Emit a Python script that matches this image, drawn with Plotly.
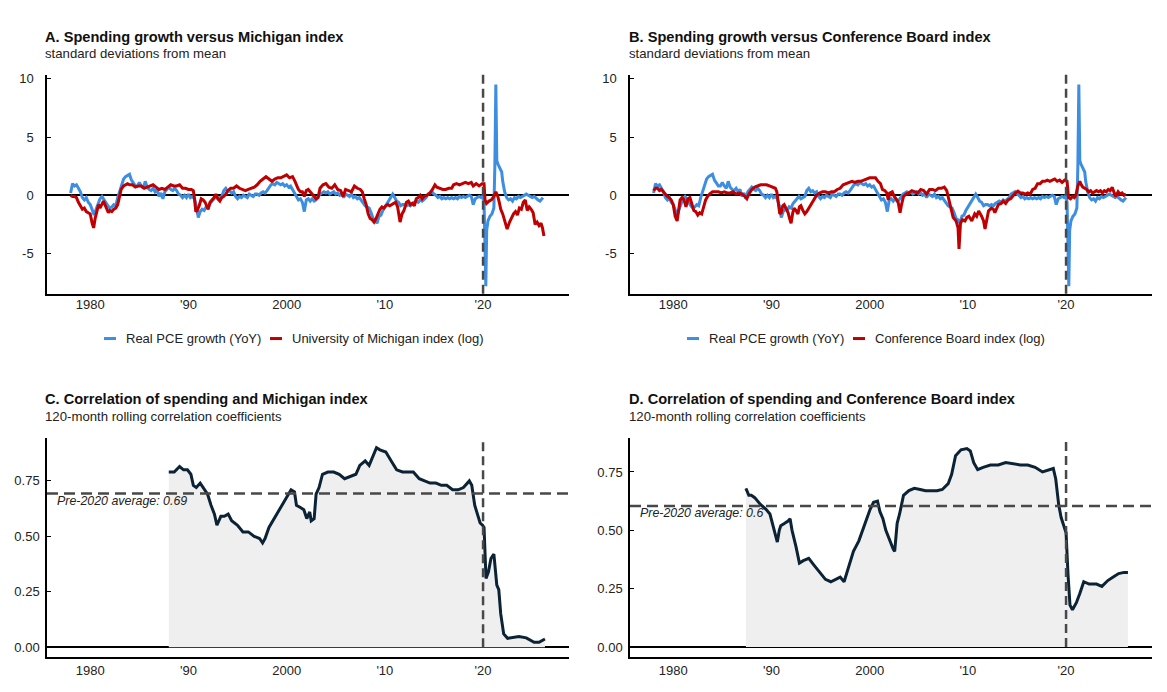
import plotly.graph_objects as go

# ---------------- data ----------------
years_ticks = [1980, 1990, 2000, 2010, 2020]
year_labels = ["1980", "'90", "2000", "'10", "'20"]
top_ticks = [-5, 0, 5, 10]
top_tick_labels = ["-5", "0", "5", "10"]
corr_ticks = [0, 0.25, 0.5, 0.75]
corr_tick_labels = ["0.00", "0.25", "0.50", "0.75"]

covid_break = 2020.0
avg_mi = 0.693
avg_cb = 0.604

pce_t = [1978.0, 1978.2, 1978.4, 1978.6, 1978.8, 1979.0, 1979.2, 1979.4, 1979.6, 1979.8,
         1980.0, 1980.2, 1980.4, 1980.6, 1980.8, 1981.0, 1981.2, 1981.4, 1981.6, 1981.8,
         1982.0, 1982.2, 1982.4, 1982.6, 1982.8, 1983.0, 1983.2, 1983.4, 1983.6, 1983.8,
         1984.0, 1984.2, 1984.4, 1984.6, 1984.8, 1985.0, 1985.2, 1985.4, 1985.6, 1985.8,
         1986.0, 1986.2, 1986.4, 1986.6, 1986.8, 1987.0, 1987.2, 1987.4, 1987.6, 1987.8,
         1988.0, 1988.2, 1988.4, 1988.6, 1988.8, 1989.0, 1989.2, 1989.4, 1989.6, 1989.8,
         1990.0, 1990.2, 1990.4, 1990.6, 1990.8, 1991.0, 1991.2, 1991.4, 1991.6, 1991.8,
         1992.0, 1992.2, 1992.4, 1992.6, 1992.8, 1993.0, 1993.2, 1993.4, 1993.6, 1993.8,
         1994.0, 1994.2, 1994.4, 1994.6, 1994.8, 1995.0, 1995.2, 1995.4, 1995.6, 1995.8,
         1996.0, 1996.2, 1996.4, 1996.6, 1996.8, 1997.0, 1997.2, 1997.4, 1997.6, 1997.8,
         1998.0, 1998.2, 1998.4, 1998.6, 1998.8, 1999.0, 1999.2, 1999.4, 1999.6, 1999.8,
         2000.0, 2000.2, 2000.4, 2000.6, 2000.8, 2001.0, 2001.2, 2001.4, 2001.6, 2001.8,
         2002.0, 2002.2, 2002.4, 2002.6, 2002.8, 2003.0, 2003.2, 2003.4, 2003.6, 2003.8,
         2004.0, 2004.2, 2004.4, 2004.6, 2004.8, 2005.0, 2005.2, 2005.4, 2005.6, 2005.8,
         2006.0, 2006.2, 2006.4, 2006.6, 2006.8, 2007.0, 2007.2, 2007.4, 2007.6, 2007.8,
         2008.0, 2008.2, 2008.4, 2008.6, 2008.8, 2009.0, 2009.2, 2009.4, 2009.6, 2009.8,
         2010.0, 2010.2, 2010.4, 2010.6, 2010.8, 2011.0, 2011.2, 2011.4, 2011.6, 2011.8,
         2012.0, 2012.2, 2012.4, 2012.6, 2012.8, 2013.0, 2013.2, 2013.4, 2013.6, 2013.8,
         2014.0, 2014.2, 2014.4, 2014.6, 2014.8, 2015.0, 2015.2, 2015.4, 2015.6, 2015.8,
         2016.0, 2016.2, 2016.4, 2016.6, 2016.8, 2017.0, 2017.2, 2017.4, 2017.6, 2017.8,
         2018.0, 2018.2, 2018.4, 2018.6, 2018.8, 2019.0, 2019.2, 2019.4, 2019.6, 2019.8,
         2020.0, 2020.1, 2020.2, 2020.28, 2020.37, 2020.5, 2020.7, 2020.9, 2021.1, 2021.2,
         2021.3, 2021.4, 2021.5, 2021.7, 2021.9, 2022.0, 2022.2, 2022.4, 2022.6, 2022.8,
         2023.0, 2023.2, 2023.4, 2023.6, 2023.8, 2024.0, 2024.2, 2024.4, 2024.6, 2024.8,
         2025.0, 2025.2, 2025.4, 2025.6, 2025.8, 2026.0, 2026.1]
pce_v = [0.2, 1.0, 0.8, 0.9, 0.6, 0.3, -0.2, -0.4, -0.2, -0.6,
         -0.8, -1.3, -1.7, -1.2, -0.8, -0.3, -0.1, -0.4, -0.6, -0.9,
         -1.1, -1.0, -0.8, -0.9, -0.2, 0.4, 0.9, 1.4, 1.6, 1.7,
         1.8, 1.3, 1.0, 0.8, 0.8, 1.1, 0.8, 0.6, 1.2, 0.7,
         0.5, 0.4, 0.6, 0.3, 0.5, -0.1, 0.2, -0.3, 0.3, 0.5,
         0.7, 0.5, 0.4, 0.6, 0.4, 0.1, 0.0, -0.2, 0.0, -0.2,
         0.1, -0.2, -0.1, -0.3, -0.9, -1.9, -1.4, -1.2, -1.3, -1.0,
         -1.1, -0.7, -0.5, -0.3, -0.1, -0.3, -0.2, -0.1, 0.4, 0.6,
         0.3, 0.4, 0.2, 0.3, -0.1, -0.3, -0.1, -0.2, 0.0, -0.1,
         -0.2, 0.1, 0.0, -0.1, 0.1, 0.1, 0.0, 0.2, 0.3, 0.2,
         0.4, 0.6, 0.9, 1.0, 0.9, 1.1, 1.0, 0.9, 1.0, 0.8,
         0.9, 0.7, 0.8, 0.5, 0.2, -0.2, -0.4, -0.3, -0.6, -1.4,
         -0.4, -0.3, -0.5, -0.3, -0.5, -0.4, -0.1, 0.1, 0.2, 0.3,
         0.2, 0.3, 0.1, 0.2, 0.3, 0.1, 0.2, 0.0, 0.1, -0.2,
         0.1, 0.0, -0.1, 0.1, -0.2, -0.1, -0.3, -0.2, -0.4, -0.6,
         -0.9, -1.0, -1.1, -1.5, -2.0, -2.1, -2.4, -1.8, -1.7, -1.3,
         -1.0, -0.8, -0.4, -0.1, 0.1, -0.2, -0.5, -0.6, -0.9, -0.8,
         -0.8, -0.9, -0.8, -0.9, -0.7, -0.6, -0.5, -0.6, -0.4, -0.5,
         -0.3, -0.2, 0.1, 0.2, 0.3, 0.1, 0.0, -0.2, -0.1, -0.3,
         -0.2, -0.3, -0.2, -0.3, -0.2, -0.3, -0.2, -0.3, -0.1, -0.2,
         -0.1, -0.2, -0.1, 0.0, -0.1, -0.8, -0.3, -0.2, -0.1, -0.2,
         0.0, -0.6, -4.0, -7.8, -3.0, -2.2, -1.8, -1.6, -1.1, 2.5,
         9.5, 3.0, 2.7, 2.3, 2.0, 1.2, 0.3, -0.2, -0.4, -0.3,
         -0.5, -0.2, -0.3, -0.1, -0.2, -0.1, 0.0, 0.1, 0.0, -0.1,
         -0.2, -0.1, -0.3, -0.4, -0.5, -0.3, -0.2]

mich_t = [1978.0, 1978.2, 1978.4, 1978.6, 1978.8, 1979.0, 1979.2, 1979.4, 1979.6, 1979.8,
          1980.0, 1980.2, 1980.35, 1980.5, 1980.7, 1980.85, 1981.0, 1981.2, 1981.35, 1981.5,
          1981.7, 1981.85, 1982.0, 1982.2, 1982.4, 1982.6, 1982.8, 1983.0, 1983.15, 1983.4,
          1983.6, 1983.8, 1984.0, 1984.3, 1984.6, 1984.9, 1985.2, 1985.5, 1985.8, 1986.1,
          1986.4, 1986.7, 1987.0, 1987.3, 1987.6, 1987.9, 1988.2, 1988.5, 1988.8, 1989.1,
          1989.4, 1989.7, 1990.0, 1990.3, 1990.5, 1990.62, 1990.75, 1990.9, 1991.1, 1991.3,
          1991.5, 1991.7, 1991.9, 1992.0, 1992.2, 1992.4, 1992.6, 1992.8, 1993.0, 1993.2,
          1993.4, 1993.6, 1993.8, 1994.0, 1994.3, 1994.6, 1994.9, 1995.2, 1995.5, 1995.8,
          1996.1, 1996.4, 1996.7, 1997.0, 1997.3, 1997.6, 1997.9, 1998.2, 1998.5, 1998.8,
          1999.1, 1999.4, 1999.7, 2000.0, 2000.3, 2000.6, 2000.85, 2001.0, 2001.2, 2001.4,
          2001.6, 2001.8, 2002.0, 2002.2, 2002.5, 2002.8, 2003.0, 2003.2, 2003.4, 2003.7,
          2004.0, 2004.3, 2004.6, 2004.9, 2005.2, 2005.5, 2005.75, 2006.0, 2006.3, 2006.6,
          2006.9, 2007.2, 2007.5, 2007.7, 2007.9, 2008.1, 2008.3, 2008.5, 2008.7, 2008.9,
          2009.1, 2009.3, 2009.5, 2009.7, 2009.9, 2010.1, 2010.3, 2010.5, 2010.7, 2010.9,
          2011.1, 2011.3, 2011.55, 2011.75, 2011.95, 2012.2, 2012.4, 2012.6, 2012.8, 2013.0,
          2013.2, 2013.4, 2013.6, 2013.8, 2014.0, 2014.3, 2014.6, 2014.85, 2015.1, 2015.3,
          2015.6, 2015.9, 2016.2, 2016.5, 2016.8, 2017.0, 2017.3, 2017.6, 2017.9, 2018.2,
          2018.5, 2018.8, 2019.0, 2019.3, 2019.6, 2019.9, 2020.1, 2020.2, 2020.35, 2020.6,
          2020.85, 2021.1, 2021.3, 2021.5, 2021.65, 2021.8, 2022.0, 2022.2, 2022.45, 2022.7,
          2022.9, 2023.1, 2023.3, 2023.5, 2023.7, 2023.9, 2024.1, 2024.3, 2024.5, 2024.7,
          2024.9, 2025.1, 2025.3, 2025.5, 2025.7, 2025.9, 2026.05, 2026.2]
mich_v = [0.0, -0.1, -0.1, -0.2, -0.6, -0.9, -1.2, -1.1, -1.4, -1.5,
          -1.6, -2.4, -2.8, -2.0, -1.2, -0.8, -1.1, -0.7, -0.5, -0.8,
          -1.2, -1.5, -1.3, -1.4, -1.2, -1.1, -0.8, 0.0, 0.5, 0.8,
          0.9, 1.0, 0.9, 0.9, 0.7, 0.8, 0.8, 0.6, 0.7, 0.8,
          0.9, 0.7, 0.5, 0.6, 0.5, 0.7, 0.9, 0.8, 0.8, 0.9,
          0.6, 0.6, 0.5, 0.5, 0.4, -0.3, -1.4, -1.3, -0.9, -0.3,
          -0.4, -0.6, -1.0, -1.2, -0.6, -0.4, -0.2, 0.1, -0.3, -0.5,
          -0.2, -0.1, 0.1, 0.4, 0.6, 0.6, 0.8, 0.6, 0.5, 0.4,
          0.5, 0.6, 0.7, 0.9, 1.2, 1.4, 1.6, 1.4, 1.2, 1.4,
          1.5, 1.5, 1.6, 1.75, 1.5, 1.6, 1.2, 0.9, 0.5, 0.3,
          0.3, -0.1, 0.4, 0.5, 0.2, -0.1, -0.3, -0.2, 0.6, 0.9,
          1.0, 0.7, 0.6, 0.9, 0.5, 0.4, -0.1, 0.5, 0.4, 0.3,
          0.8, 0.6, 0.5, 0.3, -0.3, -0.8, -1.6, -2.0, -2.1, -2.3,
          -2.0, -1.6, -1.2, -1.0, -1.1, -0.9, -0.8, -0.9, -0.8, -0.7,
          -0.6, -1.0, -2.3, -1.6, -1.3, -0.6, -0.5, -0.8, -0.7, -0.9,
          -0.3, -0.2, 0.0, -0.3, -0.1, 0.0, 0.2, 0.5, 0.9, 0.7,
          0.6, 0.5, 0.5, 0.6, 0.6, 0.9, 1.0, 0.9, 1.0, 1.1,
          1.0, 1.1, 0.8, 1.0, 0.8, 1.0, 1.0, -0.4, -0.7, -0.5,
          -0.4, -0.1, 0.3, -0.1, -0.6, -1.2, -1.6, -2.2, -2.9, -2.3,
          -1.9, -1.6, -1.4, -1.7, -1.1, -1.2, -0.6, -0.4, -1.3, -1.0,
          -1.2, -1.5, -2.5, -2.3, -2.6, -2.4, -2.8, -3.5]

cb_t = [1978.0, 1978.2, 1978.4, 1978.6, 1978.8, 1979.0, 1979.2, 1979.4, 1979.6, 1979.8,
        1980.0, 1980.2, 1980.4, 1980.55, 1980.7, 1980.9, 1981.1, 1981.3, 1981.5, 1981.7,
        1981.9, 1982.1, 1982.3, 1982.5, 1982.7, 1982.9, 1983.1, 1983.3, 1983.5, 1983.7,
        1984.0, 1984.3, 1984.6, 1984.9, 1985.2, 1985.5, 1985.8, 1986.1, 1986.4, 1986.7,
        1987.0, 1987.3, 1987.5, 1987.7, 1988.0, 1988.3, 1988.6, 1988.9, 1989.2, 1989.5,
        1989.8, 1990.1, 1990.4, 1990.55, 1990.7, 1990.85, 1991.0, 1991.15, 1991.3, 1991.5,
        1991.7, 1991.85, 1992.0, 1992.15, 1992.3, 1992.5, 1992.7, 1992.85, 1993.0, 1993.2,
        1993.4, 1993.6, 1993.8, 1994.0, 1994.3, 1994.6, 1994.9, 1995.2, 1995.5, 1995.8,
        1996.1, 1996.4, 1996.7, 1997.0, 1997.3, 1997.6, 1997.9, 1998.2, 1998.5, 1998.8,
        1999.1, 1999.4, 1999.7, 2000.0, 2000.3, 2000.6, 2000.85, 2001.1, 2001.3, 2001.55,
        2001.75, 2001.9, 2002.05, 2002.3, 2002.5, 2002.7, 2002.9, 2003.1, 2003.25, 2003.45,
        2003.7, 2004.0, 2004.3, 2004.6, 2004.9, 2005.2, 2005.5, 2005.8, 2006.1, 2006.4,
        2006.7, 2007.0, 2007.3, 2007.6, 2007.85, 2008.05, 2008.25, 2008.5, 2008.8, 2009.0,
        2009.1, 2009.25, 2009.45, 2009.7, 2009.9, 2010.1, 2010.4, 2010.7, 2010.9, 2011.1,
        2011.4, 2011.6, 2011.75, 2011.95, 2012.1, 2012.4, 2012.6, 2012.75, 2012.95, 2013.1,
        2013.4, 2013.6, 2013.85, 2014.1, 2014.35, 2014.6, 2014.85, 2015.1, 2015.35, 2015.6,
        2015.85, 2016.1, 2016.35, 2016.6, 2016.85, 2017.1, 2017.35, 2017.6, 2017.85, 2018.1,
        2018.35, 2018.6, 2018.85, 2019.1, 2019.35, 2019.6, 2019.85, 2020.1, 2020.25, 2020.45,
        2020.65, 2020.85, 2021.0, 2021.2, 2021.4, 2021.55, 2021.7, 2021.9, 2022.1, 2022.3,
        2022.5, 2022.7, 2022.9, 2023.1, 2023.3, 2023.5, 2023.7, 2023.9, 2024.1, 2024.3,
        2024.5, 2024.7, 2024.9, 2025.05, 2025.3, 2025.5, 2025.7, 2025.9, 2026.1]
cb_v = [0.4, 0.6, 0.6, 0.4, 0.5, 0.3, 0.0, -0.1, -0.2, -0.4,
        -0.8, -1.8, -2.2, -1.3, -0.4, -0.2, -0.4, -1.0, -0.3, -0.2,
        -0.8, -1.3, -1.4, -1.7, -1.5, -1.6, -1.0, -0.4, -0.1, 0.1,
        0.3, 0.3, 0.3, 0.2, 0.3, 0.2, 0.2, 0.3, 0.1, 0.2,
        0.1, -0.1, -0.3, 0.1, 0.5, 0.7, 0.8, 0.9, 0.9, 0.9,
        0.8, 0.7, 0.6, 0.3, -0.8, -1.6, -1.5, -0.9, -0.8, -1.2,
        -1.5, -2.0, -2.4, -1.6, -1.1, -1.3, -1.6, -1.0, -0.9, -1.3,
        -1.6, -1.4, -1.1, -0.9, -0.4, 0.0, 0.2, 0.3, 0.3, 0.2,
        0.3, 0.3, 0.5, 0.6, 0.9, 1.0, 1.1, 1.2, 1.1, 1.2,
        1.2, 1.3, 1.4, 1.5, 1.5, 1.5, 1.2, 1.0, 0.5, 0.4,
        0.2, -0.4, 0.2, 0.3, -0.1, -0.3, -0.6, -1.5, -0.8, -0.1,
        0.1, 0.2, 0.4, 0.3, 0.2, 0.5, 0.4, 0.1, 0.5, 0.5,
        0.4, 0.6, 0.6, 0.7, 0.4, -0.3, -1.1, -1.9, -2.2, -2.8,
        -4.6, -2.4, -2.1, -2.2, -1.9, -1.8, -2.2, -1.6, -1.8, -1.35,
        -1.8, -2.2, -2.9, -2.0, -1.35, -1.1, -1.2, -1.5, -1.1, -0.8,
        -0.7, -0.5, -0.7, -0.4, -0.3, 0.0, 0.2, 0.35, 0.2, 0.2,
        0.1, 0.2, 0.1, 0.5, 0.6, 1.0, 1.0, 1.2, 1.2, 1.3,
        1.2, 1.3, 1.4, 1.2, 1.3, 1.1, 1.3, 1.2, -0.2, -0.3,
        -0.1, -0.2, 0.0, 0.8, 1.2, 0.9, 0.7, 0.6, 0.5, 0.3,
        0.4, 0.2, 0.3, 0.4, 0.3, 0.4, 0.2, 0.4, 0.3, 0.5,
        0.4, 0.7, 0.2, -0.1, 0.3, 0.1, 0.2, 0.0, 0.1]

corr_mi_t = [1988.0, 1988.55, 1989.1, 1989.5, 1989.9, 1990.25, 1990.5, 1990.8, 1991.2, 1991.6,
             1991.95, 1992.3, 1992.65, 1992.9, 1993.3, 1993.65, 1994.05, 1994.4, 1995.0, 1995.55,
             1996.1, 1996.7, 1997.25, 1997.55, 1997.8, 1998.2, 1998.75, 1999.3, 1999.9, 2000.45,
             2000.8, 2001.0, 2001.4, 2001.75, 2002.05, 2002.35, 2002.5, 2002.8, 2003.0, 2003.3,
             2003.65, 2004.2, 2004.8, 2005.35, 2005.9, 2006.5, 2007.05, 2007.45, 2008.0, 2008.4,
             2008.75, 2009.15, 2009.5, 2010.1, 2010.65, 2011.2, 2011.8, 2012.35, 2012.9, 2013.5,
             2014.05, 2014.6, 2015.2, 2015.75, 2016.3, 2016.9, 2017.45, 2018.0, 2018.6, 2018.85,
             2019.15, 2019.45, 2019.7, 2019.95, 2020.1, 2020.3, 2020.55, 2020.8, 2021.1, 2021.4,
             2021.6, 2021.8, 2022.1, 2022.5, 2023.1, 2023.65, 2024.4, 2025.2, 2025.7, 2026.3]
corr_mi_v = [0.79, 0.79, 0.815, 0.80, 0.80, 0.78, 0.73, 0.72, 0.74, 0.71,
             0.69, 0.64, 0.60, 0.55, 0.59, 0.59, 0.60, 0.57, 0.55, 0.52,
             0.52, 0.50, 0.49, 0.47, 0.49, 0.54, 0.58, 0.62, 0.67, 0.71,
             0.70, 0.64, 0.63, 0.62, 0.58, 0.61, 0.57, 0.58, 0.69, 0.72,
             0.78, 0.79, 0.79, 0.78, 0.76, 0.77, 0.78, 0.82, 0.84, 0.82,
             0.86, 0.90, 0.89, 0.88, 0.84, 0.80, 0.79, 0.79, 0.79, 0.76,
             0.75, 0.74, 0.74, 0.73, 0.73, 0.71, 0.71, 0.72, 0.75, 0.73,
             0.64, 0.60, 0.56, 0.55, 0.54, 0.31, 0.34, 0.40, 0.42, 0.28,
             0.26, 0.15, 0.06, 0.04, 0.045, 0.048, 0.042, 0.022, 0.022, 0.037]

corr_cb_t = [1987.4, 1987.7, 1987.95, 1988.3, 1988.9, 1989.45, 1989.85, 1990.2, 1990.6, 1990.8,
             1990.95, 1991.35, 1991.7, 1991.9, 1992.1, 1992.5, 1992.85, 1993.25, 1993.8, 1994.35,
             1994.9, 1995.5, 1996.05, 1996.6, 1997.0, 1997.4, 1997.75, 1998.35, 1998.9, 1999.5,
             2000.05, 2000.4, 2000.8, 2001.05, 2001.35, 2001.65, 2002.05, 2002.4, 2002.55, 2002.8,
             2003.05, 2003.45, 2004.0, 2004.55, 2005.15, 2005.7, 2006.3, 2006.85, 2007.4, 2008.0,
             2008.35, 2008.75, 2009.3, 2009.9, 2010.25, 2010.6, 2011.0, 2011.55, 2012.3, 2013.1,
             2013.85, 2014.6, 2015.35, 2016.1, 2016.85, 2017.6, 2018.2, 2018.7, 2018.95, 2019.25,
             2019.5, 2019.8, 2020.0, 2020.2, 2020.4, 2020.65, 2021.05, 2021.4, 2021.8, 2022.35,
             2023.1, 2023.65, 2024.25, 2024.8, 2025.35, 2025.9, 2026.3]
corr_cb_v = [0.68, 0.65, 0.65, 0.64, 0.61, 0.59, 0.57, 0.51, 0.45, 0.50,
             0.52, 0.53, 0.54, 0.55, 0.50, 0.43, 0.36, 0.37, 0.38, 0.35,
             0.32, 0.29, 0.28, 0.29, 0.30, 0.28, 0.33, 0.41, 0.455, 0.53,
             0.59, 0.62, 0.625, 0.58, 0.55, 0.50, 0.455, 0.42, 0.41, 0.53,
             0.57, 0.65, 0.67, 0.68, 0.675, 0.67, 0.67, 0.67, 0.675, 0.70,
             0.74, 0.82, 0.845, 0.85, 0.84, 0.79, 0.76, 0.77, 0.78, 0.78,
             0.79, 0.785, 0.78, 0.78, 0.77, 0.75, 0.76, 0.765, 0.72, 0.61,
             0.555, 0.51, 0.49, 0.31, 0.18, 0.16, 0.19, 0.23, 0.28, 0.27,
             0.27, 0.26, 0.285, 0.30, 0.315, 0.32, 0.32]

# ---------------- styling / layout ----------------
W, H = 1167, 692
FONT = "Liberation Sans, Arial, sans-serif"
BLUE = "#3d8de0"
RED = "#c00000"
NAVY = "#0b2335"
FILL = "#efefef"
DASH_COL = "#484848"


def px(x):
    return x / W


def py(y):
    return 1 - y / H


X_RANGE = [1975.6, 2028.75]
TOP_RANGE = [-8.45, 10.35]
C_RANGE = [-0.045, 0.943]
D_RANGE = [-0.043, 0.895]

left_dom = [px(47), px(569)]
right_dom = [px(630), px(1152)]
top_dom = [py(292), py(72)]
bot_dom = [py(657), py(437)]

fig = go.Figure()

LW = 3
# Panel A
fig.add_trace(go.Scatter(x=pce_t, y=pce_v, mode="lines", line=dict(color=BLUE, width=LW),
                         name="Real PCE growth (YoY)", xaxis="x", yaxis="y", showlegend=False))
fig.add_trace(go.Scatter(x=mich_t, y=mich_v, mode="lines", line=dict(color=RED, width=LW),
                         name="University of Michigan index (log)", xaxis="x", yaxis="y", showlegend=False))
# Panel B
fig.add_trace(go.Scatter(x=pce_t, y=pce_v, mode="lines", line=dict(color=BLUE, width=LW),
                         name="Real PCE growth (YoY)", xaxis="x2", yaxis="y2", showlegend=False))
fig.add_trace(go.Scatter(x=cb_t, y=cb_v, mode="lines", line=dict(color=RED, width=LW),
                         name="Conference Board index (log)", xaxis="x2", yaxis="y2", showlegend=False))
# Panel C
fig.add_trace(go.Scatter(x=corr_mi_t, y=corr_mi_v, mode="lines", fill="tozeroy", fillcolor=FILL,
                         line=dict(color=NAVY, width=3), name="Michigan correlation",
                         xaxis="x3", yaxis="y3", showlegend=False))
# Panel D
fig.add_trace(go.Scatter(x=corr_cb_t, y=corr_cb_v, mode="lines", fill="tozeroy", fillcolor=FILL,
                         line=dict(color=NAVY, width=3), name="Conference Board correlation",
                         xaxis="x4", yaxis="y4", showlegend=False))

tickfont = dict(family=FONT, size=13, color="#222")


def xaxis(dom, anchor, standoff):
    return dict(domain=dom, anchor=anchor, range=X_RANGE, tickmode="array",
                tickvals=years_ticks, ticktext=year_labels, showline=True, linecolor="black",
                linewidth=1.5, ticks="", showgrid=False, zeroline=False, tickfont=tickfont,
                ticklabelstandoff=standoff)


def yaxis(dom, anchor, rng, tv, tt, standoff):
    return dict(domain=dom, anchor=anchor, range=rng, tickmode="array", tickvals=tv, ticktext=tt,
                showline=True, linecolor="black", linewidth=1.5, ticks="inside", ticklen=4,
                tickcolor="black", tickwidth=1, showgrid=False, zeroline=True,
                zerolinecolor="black", zerolinewidth=1.5, tickfont=tickfont,
                ticklabelstandoff=standoff)


fig.update_layout(
    width=W, height=H, margin=dict(l=0, r=0, t=0, b=0),
    paper_bgcolor="white", plot_bgcolor="white",
    font=dict(family=FONT, color="#111"),
    xaxis=xaxis(left_dom, "y", -2),
    yaxis=yaxis(top_dom, "x", TOP_RANGE, top_ticks, top_tick_labels, 9),
    xaxis2=xaxis(right_dom, "y2", -2),
    yaxis2=yaxis(top_dom, "x2", TOP_RANGE, top_ticks, top_tick_labels, 9),
    xaxis3=xaxis(left_dom, "y3", 0),
    yaxis3=yaxis(bot_dom, "x3", C_RANGE, corr_ticks, corr_tick_labels, 3),
    xaxis4=xaxis(right_dom, "y4", 0),
    yaxis4=yaxis(bot_dom, "x4", D_RANGE, corr_ticks, corr_tick_labels, 3),
)

shapes = []
ann = []

# vertical dashed line at the 2020 break
for xr, yref in [("x", "y domain"), ("x2", "y2 domain")]:
    shapes.append(dict(type="line", xref=xr, yref=yref, x0=covid_break, x1=covid_break, y0=0, y1=1,
                       line=dict(color=DASH_COL, width=2.5, dash="9px,5px")))
shapes.append(dict(type="line", xref="x3", yref="y3", x0=covid_break, x1=covid_break, y0=0, y1=C_RANGE[1],
                   line=dict(color=DASH_COL, width=2.5, dash="9px,5px")))
shapes.append(dict(type="line", xref="x4", yref="y4", x0=covid_break, x1=covid_break, y0=0, y1=D_RANGE[1],
                   line=dict(color=DASH_COL, width=2.5, dash="9px,5px")))
# horizontal pre-2020 averages
shapes.append(dict(type="line", xref="x3 domain", yref="y3", x0=0, x1=1, y0=avg_mi, y1=avg_mi,
                   line=dict(color=DASH_COL, width=2.5, dash="11px,6px")))
shapes.append(dict(type="line", xref="x4 domain", yref="y4", x0=0, x1=1, y0=avg_cb, y1=avg_cb,
                   line=dict(color=DASH_COL, width=2.5, dash="11px,6px")))

ann.append(dict(xref="x3 domain", yref="y3", x=0.015, y=avg_mi, xanchor="left", yanchor="top",
                yshift=2, text="<i>Pre-2020 average: 0.69</i>", showarrow=False,
                font=dict(family=FONT, size=12.4, color="#222")))
ann.append(dict(xref="x4 domain", yref="y4", x=0.015, y=avg_cb, xanchor="left", yanchor="top",
                yshift=2, text="<i>Pre-2020 average: 0.6</i>", showarrow=False,
                font=dict(family=FONT, size=12.4, color="#222")))

# titles & subtitles
titles = [
    (43, 34, 51, "A. Spending growth versus Michigan index", "standard deviations from mean"),
    (627, 34, 51, "B. Spending growth versus Conference Board index", "standard deviations from mean"),
    (43, 398, 415, "C. Correlation of spending and Michigan index", "120-month rolling correlation coefficients"),
    (627, 398, 415, "D. Correlation of spending and Conference Board index", "120-month rolling correlation coefficients"),
]
for x, yt, ys, t, s in titles:
    ann.append(dict(xref="paper", yref="paper", x=px(x), y=py(yt), xanchor="left", yanchor="middle",
                    text="<b>" + t + "</b>", showarrow=False,
                    font=dict(family=FONT, size=14.6, color="#111")))
    ann.append(dict(xref="paper", yref="paper", x=px(x), y=py(ys), xanchor="left", yanchor="middle",
                    text=s, showarrow=False, font=dict(family=FONT, size=13.2, color="#222")))

# manual legends
legend_items = [
    (104, 116, 124, BLUE, "Real PCE growth (YoY)"),
    (270, 282, 290, RED, "University of Michigan index (log)"),
    (687, 699, 707, BLUE, "Real PCE growth (YoY)"),
    (853, 865, 873, RED, "Conference Board index (log)"),
]
for x0, x1, xt, col, label in legend_items:
    shapes.append(dict(type="line", xref="paper", yref="paper", x0=px(x0), x1=px(x1),
                       y0=py(337), y1=py(337), line=dict(color=col, width=3)))
    ann.append(dict(xref="paper", yref="paper", x=px(xt), y=py(337), xanchor="left", yanchor="middle",
                    text=label, showarrow=False, font=dict(family=FONT, size=13, color="#222")))

fig.update_layout(shapes=shapes, annotations=ann)
fig.write_html("out.html")
